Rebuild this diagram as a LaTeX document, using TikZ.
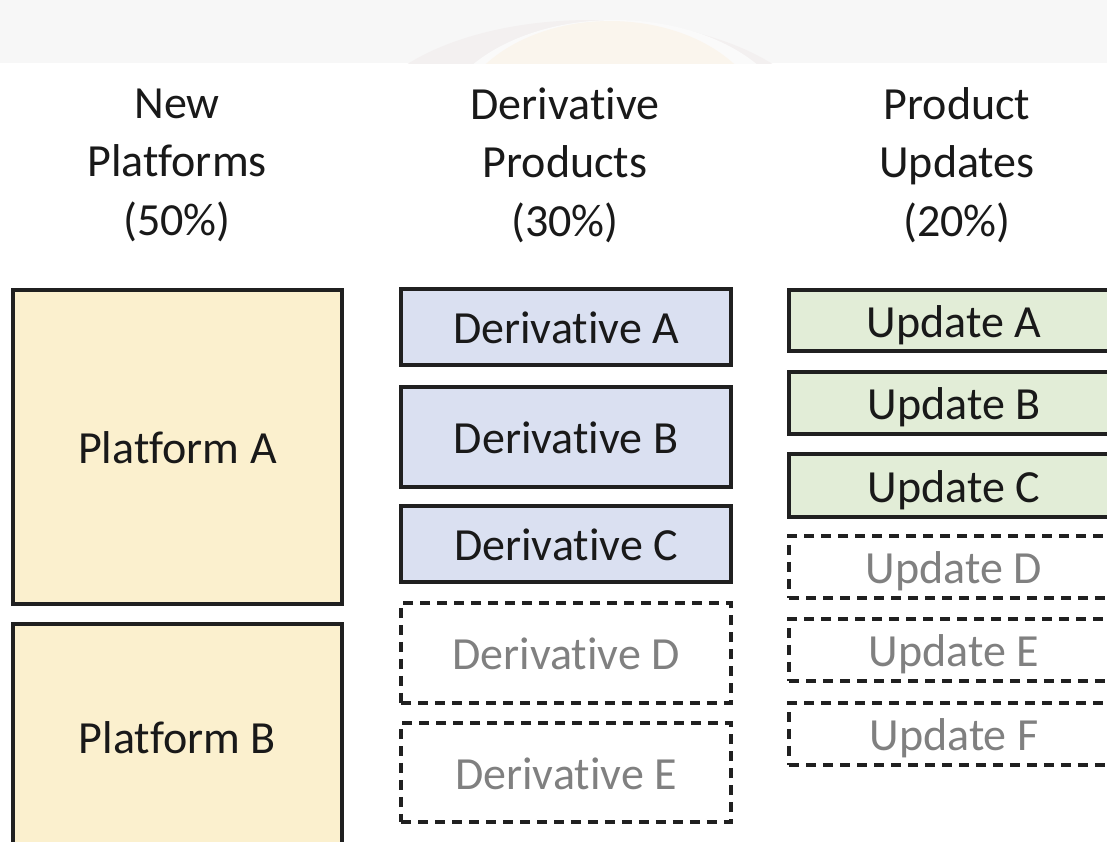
\documentclass[tikz,border=0pt]{standalone}
\usepackage{fontspec}
\setmainfont{Carlito}[Ligatures={NoCommon,NoContextual}]
\usepackage{tikz}
\definecolor{platfill}{RGB}{251,240,206}
\definecolor{derivfill}{RGB}{218,224,241}
\definecolor{updfill}{RGB}{226,237,215}
\definecolor{boxline}{RGB}{32,32,32}
\definecolor{ghosttext}{RGB}{128,128,128}
\definecolor{bandgrey}{RGB}{247,247,247}
\definecolor{markgrey}{RGB}{243,240,240}
\definecolor{markgap}{RGB}{250,250,250}
\definecolor{markgold}{RGB}{250,245,237}

\begin{document}
\begin{tikzpicture}[x=0.02cm, y=-0.02cm,
    every node/.style={font=\fontsize{26.2}{33.3}\selectfont, inner sep=0pt},
    header/.style={align=center, text=black!90},
    card/.style={draw=boxline, line width=1.8pt, text=black!90,
      text height=24.9pt, text depth=6pt},
    plat/.style={card, fill=platfill, minimum width=6.58cm},
    deriv/.style={card, fill=derivfill, minimum width=6.6cm},
    upd/.style={card, fill=updfill, minimum width=6.6cm},
    ghost/.style={card, dash pattern=on 0.2cm off 0.14cm,
      text=ghosttext, minimum width=6.6cm}]
  \useasboundingbox (0,0) rectangle (1107,842);
  \clip (0,0) rectangle (1107,842);
  \fill[bandgrey] (0,0) rectangle (1107,63);
  \begin{scope}
    \clip (0,0) rectangle (1107,63);
    \fill[markgrey] (590,135) ellipse [x radius=4.64cm, y radius=2.3cm];
    \fill[markgap] (615,135) ellipse [x radius=3.6cm, y radius=2.3cm];
    \fill[markgold] (610,130) ellipse [x radius=3.12cm, y radius=2.18cm];
  \end{scope}

  \node[header] (hplat) at (177,165) {New\\Platforms\\(50\%)};
  \node[header] (hderiv) at (565,165) {Derivative\\Products\\(30\%)};
  \node[header] (hupd) at (957,165) {Product\\Updates\\(20\%)};

  \node[plat, minimum height=6.28cm] (platA) at (177.5,447) {Platform A};
  \node[plat, minimum height=4.52cm] (platB) at (177.5,737) {Platform B};

  \node[deriv, minimum height=1.52cm] (derivA) at (566,327) {Derivative A};
  \node[deriv, minimum height=2cm] (derivB) at (566,437) {Derivative B};
  \node[deriv, minimum height=1.52cm] (derivC) at (566,544) {Derivative C};
  \node[ghost, minimum height=2cm] (derivD) at (566,653) {Derivative D};
  \node[ghost, minimum height=1.98cm] (derivE) at (566,772.5) {Derivative E};

  \node[upd, minimum height=1.22cm] (updA) at (954,320.5) {Update A};
  \node[upd, minimum height=1.24cm] (updB) at (954,403) {Update B};
  \node[upd, minimum height=1.26cm] (updC) at (954,485.5) {Update C};
  \node[ghost, minimum height=1.24cm] (updD) at (954,567) {Update D};
  \node[ghost, minimum height=1.24cm] (updE) at (954,650) {Update E};
  \node[ghost, minimum height=1.24cm] (updF) at (954,734) {Update F};
\end{tikzpicture}
\end{document}
